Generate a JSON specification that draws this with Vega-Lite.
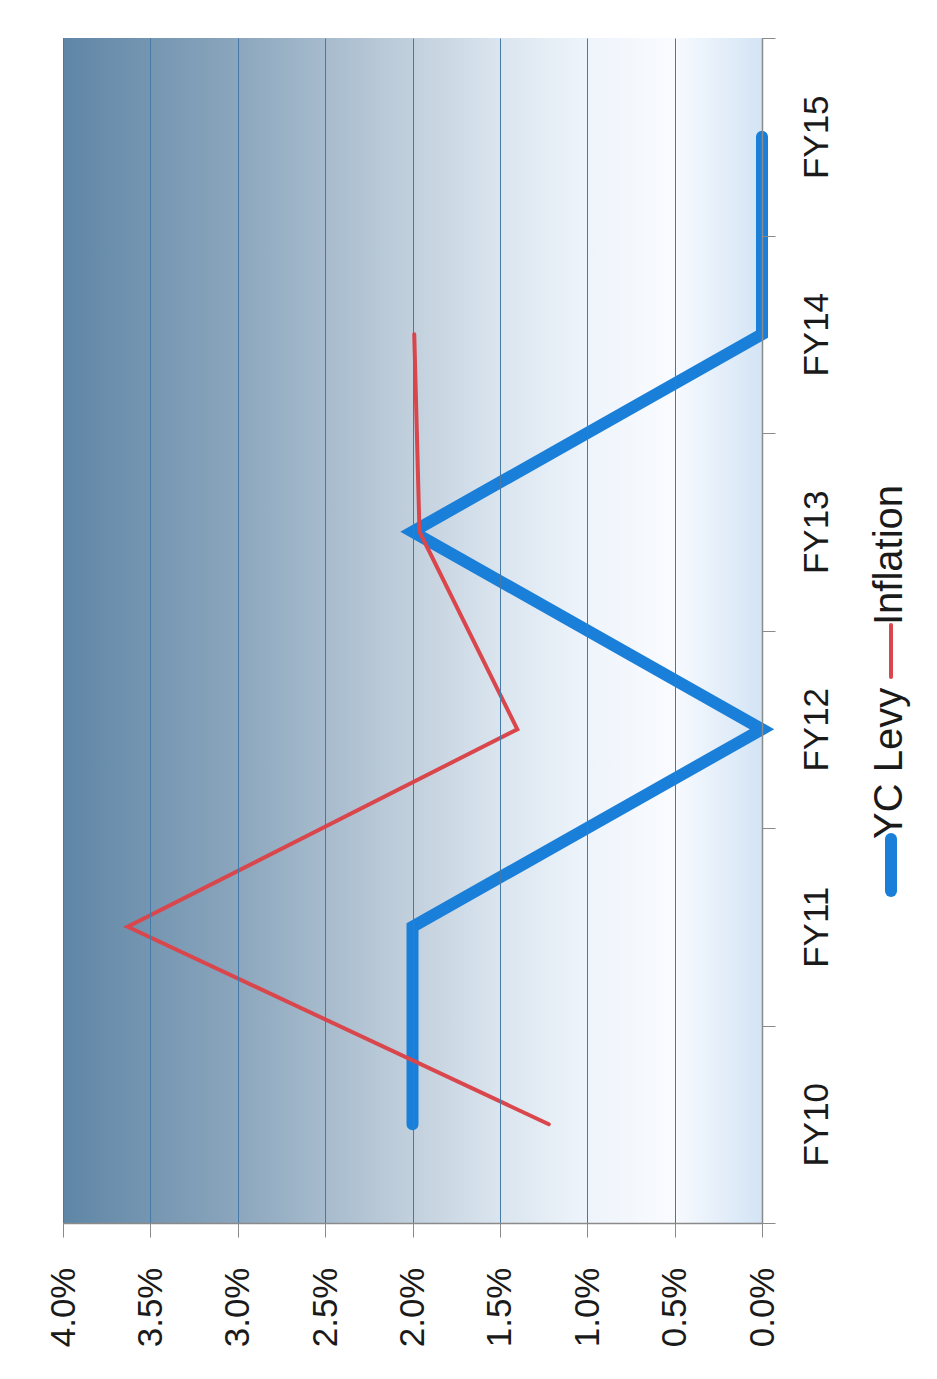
{
  "$schema": "https://vega.github.io/schema/vega-lite/v6.json",
  "width": 699,
  "height": 1185,
  "autosize": {"type": "none"},
  "padding": {"left": 63, "top": 38, "right": 175, "bottom": 156},
  "background": "white",
  "config": {
    "view": {"stroke": null},
    "font": "Liberation Sans",
    "axis": {"labelFont": "Liberation Sans", "labelFontSize": 35, "labelColor": "#1a1a1a", "title": null},
    "legend": {"labelFont": "Liberation Sans", "labelFontSize": 40, "labelColor": "#1a1a1a"}
  },
  "data": {
    "values": [
      {"series": "YC Levy", "fy": "FY10", "i": 0, "value": 0.02},
      {"series": "YC Levy", "fy": "FY11", "i": 1, "value": 0.02},
      {"series": "YC Levy", "fy": "FY12", "i": 2, "value": 0.0},
      {"series": "YC Levy", "fy": "FY13", "i": 3, "value": 0.02},
      {"series": "YC Levy", "fy": "FY14", "i": 4, "value": 0.0},
      {"series": "YC Levy", "fy": "FY15", "i": 5, "value": 0.0},
      {"series": "Inflation", "fy": "FY10", "i": 0, "value": 0.0122},
      {"series": "Inflation", "fy": "FY11", "i": 1, "value": 0.0363},
      {"series": "Inflation", "fy": "FY12", "i": 2, "value": 0.0140},
      {"series": "Inflation", "fy": "FY13", "i": 3, "value": 0.0196},
      {"series": "Inflation", "fy": "FY14", "i": 4, "value": 0.0199}
    ]
  },
  "layer": [
    {
      "data": {"values": [{}]},
      "mark": {
        "type": "rect",
        "fill": {
          "gradient": "linear",
          "x1": 0, "y1": 0, "x2": 1, "y2": 0,
          "stops": [
            {"offset": 0, "color": "#5f86a6"},
            {"offset": 0.25, "color": "#8ba6bd"},
            {"offset": 0.5, "color": "#c2d0dd"},
            {"offset": 0.62, "color": "#d9e4ee"},
            {"offset": 0.75, "color": "#eef4fb"},
            {"offset": 0.87, "color": "#f9fbff"},
            {"offset": 1, "color": "#d3e4f5"}
          ]
        }
      },
      "encoding": {
        "x": {
          "datum": 0.04,
          "type": "quantitative",
          "scale": {"domain": [0, 0.04], "reverse": true, "nice": false, "zero": true},
          "axis": {
            "orient": "bottom",
            "values": [0, 0.005, 0.01, 0.015, 0.02, 0.025, 0.03, 0.035, 0.04],
            "format": ".1%",
            "labelAngle": -90,
            "labelAlign": "right",
            "labelBaseline": "middle",
            "grid": true,
            "gridColor": "#4479a8",
            "gridWidth": 1,
            "gridOpacity": 1,
            "domainColor": "#8a8a8a",
            "domainWidth": 1.5,
            "tickColor": "#8a8a8a",
            "tickSize": 14,
            "labelPadding": 30,
            "zindex": 1,
            "title": null
          }
        },
        "x2": {"datum": 0}
      }
    },
    {
      "transform": [{"filter": "datum.series === 'YC Levy'"}],
      "mark": {"type": "line", "strokeWidth": 12, "strokeCap": "round", "zindex": 2},
      "encoding": {
        "x": {"field": "value", "type": "quantitative"},
        "y": {
          "field": "fy",
          "type": "nominal",
          "bandPosition": 0.5,
          "sort": ["FY15", "FY14", "FY13", "FY12", "FY11", "FY10"],
          "scale": {"type": "band", "paddingInner": 0, "paddingOuter": 0, "domain": ["FY15", "FY14", "FY13", "FY12", "FY11", "FY10"]},
          "axis": {
            "orient": "right",
            "labelAngle": -90,
            "labelAlign": "center",
            "labelBaseline": "top",
            "tickBand": "extent",
            "grid": false,
            "domainColor": "#8a8a8a",
            "domainWidth": 1.5,
            "tickColor": "#8a8a8a",
            "tickSize": 13,
            "labelPadding": 24,
            "zindex": 1,
            "title": null
          }
        },
        "order": {"field": "i", "type": "quantitative"},
        "color": {
          "field": "series",
          "type": "nominal",
          "scale": {"domain": ["Inflation", "YC Levy"], "range": ["#d9464b", "#1a7fd8"]},
          "legend": {
            "orient": "none",
            "legendX": 808,
            "legendY": 567,
            "direction": "vertical",
            "title": null,
            "symbolType": "M0,0L0,2",
            "symbolSize": 2700,
            "symbolStrokeWidth": 8,
            "labelOffset": -21,
            "rowPadding": 2,
            "encode": {
              "labels": {"update": {"angle": {"value": -90}, "align": {"value": "left"}, "baseline": {"value": "middle"}}},
              "symbols": {"update": {"strokeWidth": {"signal": "datum.value === 'YC Levy' ? 12 : 4"}, "strokeCap": {"value": "round"}}}
            }
          }
        }
      }
    },
    {
      "transform": [{"filter": "datum.series === 'Inflation'"}],
      "mark": {"type": "line", "strokeWidth": 4, "strokeCap": "round", "zindex": 2},
      "encoding": {
        "x": {"field": "value", "type": "quantitative"},
        "y": {"field": "fy", "type": "nominal", "bandPosition": 0.5, "sort": ["FY15", "FY14", "FY13", "FY12", "FY11", "FY10"]},
        "order": {"field": "i", "type": "quantitative"},
        "color": {"field": "series", "type": "nominal"}
      }
    }
  ]
}
